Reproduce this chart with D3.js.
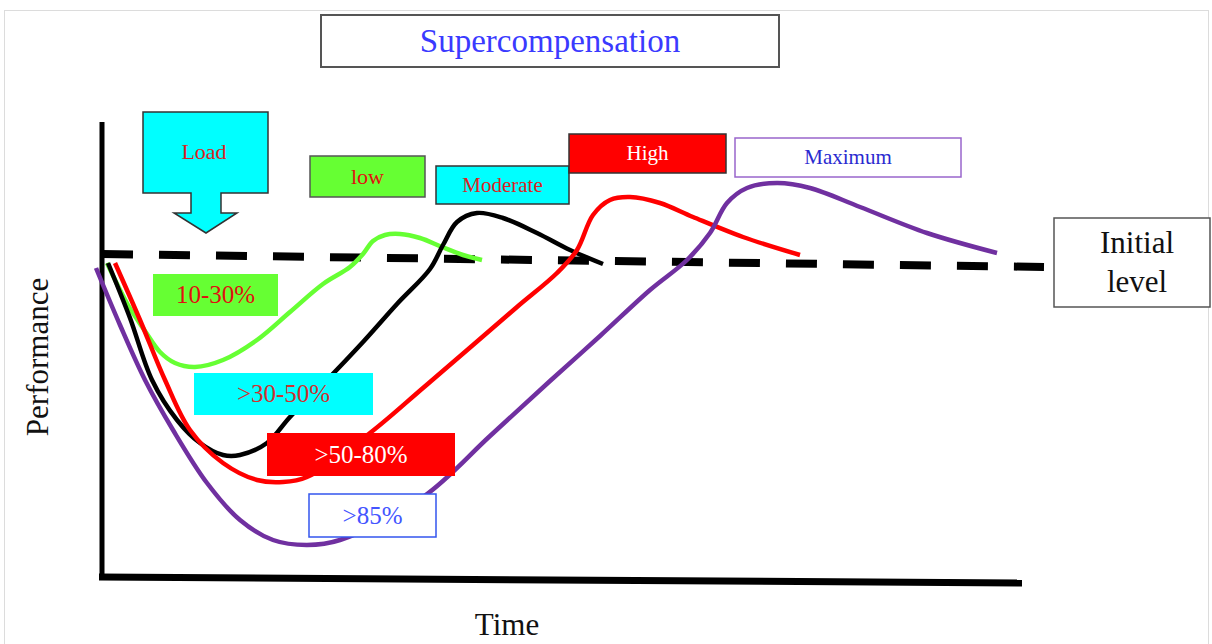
<!DOCTYPE html>
<html>
<head>
<meta charset="utf-8">
<script src="https://cdn.jsdelivr.net/npm/d3@7"></script>
<style>
  body { margin: 0; background: #fff; }
  svg { display: block; }
  text { font-family: "Liberation Serif", "Times New Roman", serif; }
</style>
</head>
<body>
<div id="chart"></div>
<script>
// performance curves (time units, performance units)
const lowTime = [0.5, 2.6, 4.3, 5.8, 7.3, 9.3, 12.1, 15.5, 18.8, 22.1, 24.8, 26.1, 27.1, 28.3, 29.8, 31.8, 34.0, 36.1, 38.0];
const lowPerf = [31.4, 27.2, 24.6, 22.5, 21.4, 21.0, 21.7, 23.7, 26.5, 29.3, 31.0, 32.3, 33.6, 34.2, 34.3, 33.9, 33.0, 32.2, 31.7];

const moderateTime = [0.6, 2.8, 5.0, 7.5, 9.8, 12.1, 13.8, 16.5, 18.8, 22.3, 26.1, 29.5, 32.8, 34.1, 35.5, 37.5, 40.1, 43.5, 46.8, 50.1];
const moderatePerf = [31.4, 25.9, 19.7, 15.7, 13.4, 12.2, 12.2, 13.4, 16.0, 19.5, 23.5, 27.3, 30.8, 33.2, 35.5, 36.4, 35.9, 34.4, 32.7, 31.3];

const highTime = [1.3, 3.8, 6.3, 8.8, 12.1, 15.5, 18.1, 20.5, 26.8, 32.1, 37.1, 41.5, 45.5, 47.5, 49.1, 50.8, 52.8, 55.8, 59.1, 64.1, 69.8];
const highPerf = [31.4, 25.7, 19.7, 14.7, 11.4, 9.7, 9.5, 10.0, 14.4, 18.9, 23.2, 27.0, 30.4, 32.7, 36.2, 37.7, 38.0, 37.4, 36.0, 34.0, 32.2];

const maxTime = [-0.6, 1.8, 4.3, 7.1, 10.5, 13.8, 17.1, 20.5, 23.8, 32.1, 38.8, 44.8, 49.8, 54.8, 58.5, 60.8, 62.5, 64.5, 67.5, 70.8, 75.8, 82.5, 89.5];
const maxPerf = [30.9, 25.2, 19.7, 14.7, 9.4, 5.7, 3.7, 3.2, 3.7, 8.0, 14.1, 19.6, 24.1, 28.7, 31.7, 34.4, 37.4, 38.9, 39.4, 38.9, 37.0, 34.4, 32.4];

// initial level (dashed) and the two axes
const initialTime = [0, 94.2];
const initialPerf = [32.3, 31.0];
const timeAxisTime = [-0.3, 92];
const timeAxisPerf = [0, -0.6];
const perfAxisTime = [0, 0];
const perfAxisPerf = [45.5, 0];

const loadLabels = ["10-30%", ">30-50%", ">50-80%", ">85%"];
const intensityLabels = ["low", "Moderate", "High", "Maximum"];

const W = 1212, H = 644;

const svg = d3.select("#chart").append("svg")
    .attr("width", W)
    .attr("height", H);

// light frame of the slide
svg.append("rect")
    .attr("x", 4.5).attr("y", 10.5)
    .attr("width", 1204).attr("height", 640)
    .attr("fill", "#fff")
    .attr("stroke", "#dcdcdc");

const x = d3.scaleLinear().domain([0, 92]).range([102, 1022]);
const y = d3.scaleLinear().domain([0, 45.5]).range([577, 122]);

const line = d3.line()
    .x(d => x(d[0]))
    .y(d => y(d[1]));

const smooth = d3.line()
    .x(d => x(d[0]))
    .y(d => y(d[1]))
    .curve(d3.curveCatmullRom.alpha(0.5));

const zip = (a, b) => a.map((v, i) => [v, b[i]]);

// axes
svg.append("path")
    .attr("d", line(zip(perfAxisTime, perfAxisPerf)))
    .attr("stroke", "#000")
    .attr("stroke-width", 5)
    .attr("fill", "none");

svg.append("path")
    .attr("d", line(zip(timeAxisTime, timeAxisPerf)))
    .attr("stroke", "#000")
    .attr("stroke-width", 7)
    .attr("fill", "none");

// initial level
svg.append("path")
    .attr("d", line(zip(initialTime, initialPerf)))
    .attr("stroke", "#000")
    .attr("stroke-width", 8)
    .attr("stroke-dasharray", "31,26")
    .attr("fill", "none");

const series = [
  { t: lowTime, p: lowPerf, color: "#66ff33" },
  { t: moderateTime, p: moderatePerf, color: "#000000" },
  { t: highTime, p: highPerf, color: "#ff0000" },
  { t: maxTime, p: maxPerf, color: "#7030a0" }
];

svg.selectAll("path.curve")
  .data(series)
  .enter()
  .append("path")
    .attr("class", "curve")
    .attr("d", d => smooth(zip(d.t, d.p)))
    .attr("stroke", d => d.color)
    .attr("stroke-width", 4.5)
    .attr("stroke-linecap", "butt")
    .attr("fill", "none");

// boxes with text
function box(bx, by, bw, bh, fill, stroke, sw, label, color, size) {
  svg.append("rect")
      .attr("x", bx).attr("y", by)
      .attr("width", bw).attr("height", bh)
      .attr("fill", fill)
      .attr("stroke", stroke)
      .attr("stroke-width", sw);
  svg.append("text")
      .attr("x", bx + bw / 2)
      .attr("y", by + bh / 2 + size * 0.33)
      .attr("text-anchor", "middle")
      .attr("font-size", size)
      .attr("fill", color)
      .text(label);
}

// title
box(321, 15, 458, 52, "#fff", "#555", 2, "Supercompensation", "#3a3aff", 33);

// load arrow
svg.append("path")
    .attr("d", "M143,112H268V193H221V213H237L206,233L174,213H191V193H143Z")
    .attr("fill", "#00ffff")
    .attr("stroke", "#333")
    .attr("stroke-width", 1.5);
svg.append("text")
    .attr("x", 204).attr("y", 159)
    .attr("text-anchor", "middle")
    .attr("font-size", 22)
    .attr("fill", "#dd2222")
    .text("Load");

// intensity boxes
box(310, 156, 115, 41, "#66ff33", "#555", 1.5, intensityLabels[0], "#e01010", 22);
box(436, 166, 133, 38, "#00ffff", "#333", 1.5, intensityLabels[1], "#dd2222", 21);
box(569, 134, 157, 39, "#ff0000", "#333", 1.5, intensityLabels[2], "#ffffff", 21);
box(735, 138, 226, 39, "#fff", "#9966cc", 1.5, intensityLabels[3], "#2a2ad0", 21);

// load percentage boxes
box(153, 274, 125, 42, "#66ff33", "none", 0, loadLabels[0], "#e01010", 25);
box(194, 373, 179, 42, "#00ffff", "none", 0, loadLabels[1], "#d03030", 25);
box(267, 433, 188, 43, "#ff0000", "none", 0, loadLabels[2], "#ffffff", 25);
box(309, 494, 127, 43, "#fff", "#3355ee", 1.5, loadLabels[3], "#4455ff", 25);

// initial level box
svg.append("rect")
    .attr("x", 1054).attr("y", 218)
    .attr("width", 156).attr("height", 89)
    .attr("fill", "#fff")
    .attr("stroke", "#555")
    .attr("stroke-width", 1.5);
svg.append("text")
    .attr("x", 1137).attr("y", 253)
    .attr("text-anchor", "middle")
    .attr("font-size", 31)
    .attr("fill", "#111")
    .text("Initial");
svg.append("text")
    .attr("x", 1137).attr("y", 292)
    .attr("text-anchor", "middle")
    .attr("font-size", 31)
    .attr("fill", "#111")
    .text("level");

// axis titles
svg.append("text")
    .attr("x", 507).attr("y", 635)
    .attr("text-anchor", "middle")
    .attr("font-size", 31)
    .attr("fill", "#111")
    .text("Time");

svg.append("text")
    .attr("transform", "translate(48,357) rotate(-90)")
    .attr("text-anchor", "middle")
    .attr("font-size", 31)
    .attr("fill", "#111")
    .text("Performance");
</script>
</body>
</html>
